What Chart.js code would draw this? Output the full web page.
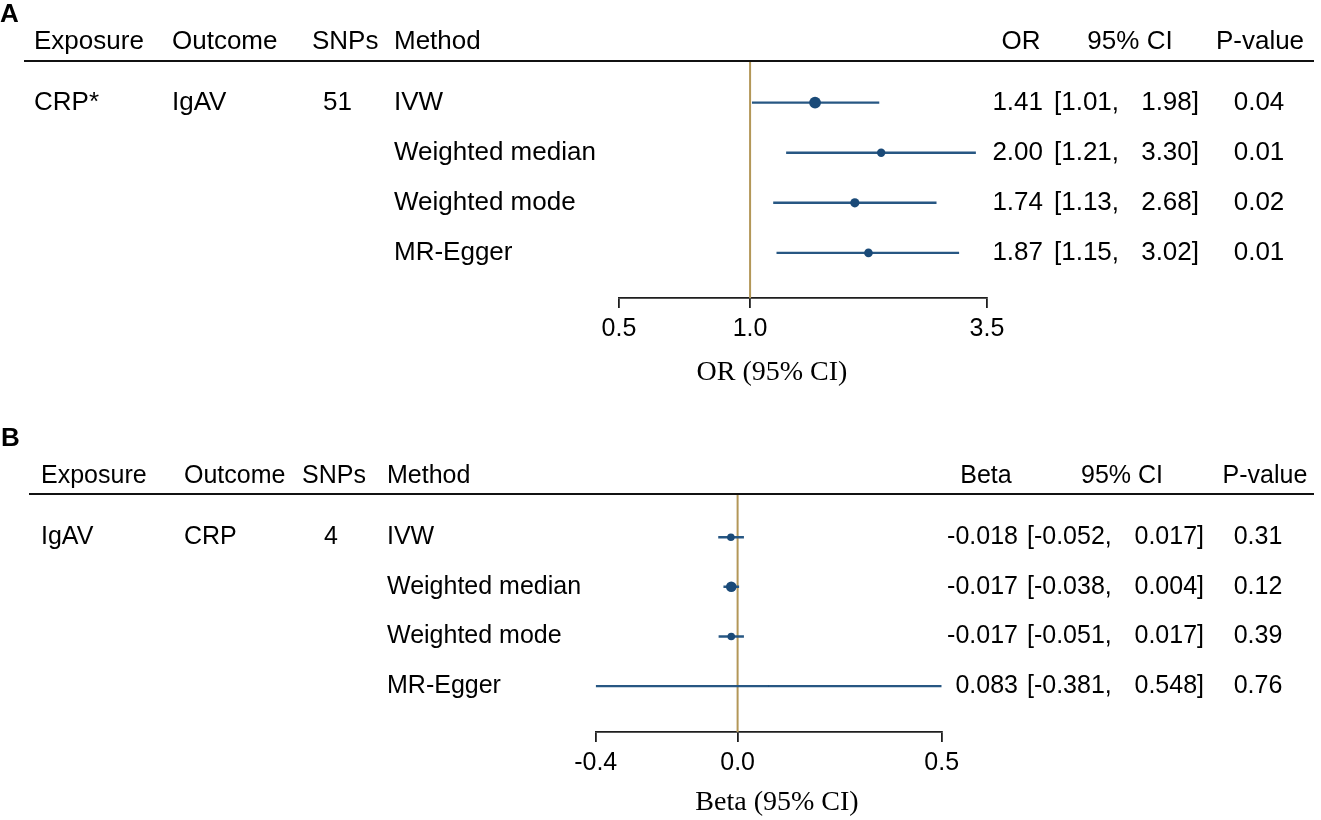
<!DOCTYPE html>
<html>
<head>
<meta charset="utf-8">
<script src="https://cdn.jsdelivr.net/npm/chart.js@4.4.1/dist/chart.umd.min.js"></script>
<style>
  html, body { margin: 0; padding: 0; background: #fff; }
  #wrap { position: relative; width: 1321px; height: 820px; overflow: hidden; }
  canvas { position: absolute; left: 0; }
  #cA { top: 0; }
  #cB { top: 410px; }
</style>
</head>
<body>
<div id="wrap">
  <canvas id="cA" width="1321" height="410"></canvas>
  <canvas id="cB" width="1321" height="410"></canvas>
</div>
<script>
// ---------------- data ----------------
const methods = ['IVW', 'Weighted median', 'Weighted mode', 'MR-Egger'];

// Panel A: CRP -> IgAV
const exposureA = 'CRP*';
const outcomeA = 'IgAV';
const snpsA = '51';
const orA = [1.41, 2.00, 1.74, 1.87];
const orLowA = [1.01, 1.21, 1.13, 1.15];
const orHighA = [1.98, 3.30, 2.68, 3.02];
const pA = ['0.04', '0.01', '0.02', '0.01'];
const ticksA = [0.5, 1.0, 3.5];

// Panel B: IgAV -> CRP
const exposureB = 'IgAV';
const outcomeB = 'CRP';
const snpsB = '4';
const betaB = [-0.018, -0.017, -0.017, 0.083];
const betaLowB = [-0.052, -0.038, -0.051, -0.381];
const betaHighB = [0.017, 0.004, 0.017, 0.548];
const pB = ['0.31', '0.12', '0.39', '0.76'];
const ticksB = [-0.381, 0, 0.548];

// ---------------- styles ----------------
const SANS = "'Liberation Sans', Arial, sans-serif";
const SERIF = "'Liberation Serif', 'Times New Roman', serif";
const pointColor = '#1a4a78';
const ciColor = '#275783';
const refColor = '#b39758';
const axisColor = '#1e1e1e';
const markerRadiusA = [5.9, 4.2, 4.6, 4.3];
const markerRadiusB = [3.8, 5.3, 3.8, 0.6];

const Y_MIN_A = 0.17, Y_MAX_A = 4.90;
const Y_MIN_B = 0.13, Y_MAX_B = 4.925;

function buildDatasets(est, lo, hi, radii, refX, yMin, yMax) {
  const ds = [];
  ds.push({
    type: 'scatter',
    data: est.map((v, i) => ({ x: v, y: i + 1 })),
    pointRadius: radii,
    pointHoverRadius: radii,
    pointBackgroundColor: pointColor,
    pointBorderWidth: 0,
    showLine: false,
    order: 0
  });
  lo.forEach((l, i) => {
    ds.push({
      type: 'line',
      data: [{ x: l, y: i + 1 }, { x: hi[i], y: i + 1 }],
      borderColor: ciColor,
      borderWidth: 2.4,
      pointRadius: 0,
      showLine: true,
      fill: false,
      order: 1
    });
  });
  ds.push({
    type: 'line',
    data: [{ x: refX, y: yMin }, { x: refX, y: yMax }],
    borderColor: refColor,
    borderWidth: 2,
    pointRadius: 0,
    showLine: true,
    fill: false,
    order: 2
  });
  return ds;
}

function txt(ctx, s, x, y, align, font) {
  ctx.font = font;
  ctx.textAlign = align || 'left';
  ctx.textBaseline = 'middle';
  ctx.fillStyle = '#000';
  ctx.fillText(s, x, y);
}

function tablePlugin(cfg) {
  const F = cfg.fs + 'px ' + SANS;
  return {
    id: 'table' + cfg.letter,
    afterDraw(chart) {
      const ctx = chart.ctx;
      const ys = chart.scales.y;
      const top = chart.chartArea.top;
      ctx.save();
      // panel letter
      txt(ctx, cfg.letter, cfg.letterX, cfg.letterY, 'left', 'bold 26px ' + SANS);
      // header
      const hy = top - cfg.headOff;
      const c = cfg.cols;
      txt(ctx, 'Exposure', c.exposure, hy, 'left', F);
      txt(ctx, 'Outcome', c.outcome, hy, 'left', F);
      txt(ctx, 'SNPs', c.snps, hy, 'left', F);
      txt(ctx, 'Method', c.method, hy, 'left', F);
      txt(ctx, cfg.estHead, c.estHead, hy, 'center', F);
      txt(ctx, '95% CI', c.ciHead, hy, 'center', F);
      txt(ctx, 'P-value', c.pHead, hy, 'center', F);
      // header rule
      ctx.strokeStyle = '#111';
      ctx.lineWidth = 2;
      ctx.beginPath();
      ctx.moveTo(cfg.ruleX0, top);
      ctx.lineTo(1314, top);
      ctx.stroke();
      // rows
      const y1 = ys.getPixelForValue(1);
      txt(ctx, cfg.exposure, c.exposure, y1, 'left', F);
      txt(ctx, cfg.outcome, c.outcome, y1, 'left', F);
      txt(ctx, cfg.snps, c.snpsVal, y1, 'left', F);
      methods.forEach((m, i) => {
        const y = ys.getPixelForValue(i + 1);
        txt(ctx, m, c.method, y, 'left', F);
        txt(ctx, cfg.est[i].toFixed(cfg.dec), c.estRight, y, 'right', F);
        txt(ctx, '[' + cfg.lo[i].toFixed(cfg.dec) + ',', c.ciLeft, y, 'left', F);
        txt(ctx, cfg.hi[i].toFixed(cfg.dec) + ']', c.ciRight, y, 'right', F);
        txt(ctx, cfg.p[i], c.pVal, y, 'center', F);
      });
      // axis title
      txt(ctx, cfg.axisTitle, cfg.titleX, chart.chartArea.bottom + cfg.titleOff, 'center', '28px ' + SERIF);
      ctx.restore();
    }
  };
}

function xAxis(type, min, max, ticks, axisH, fs) {
  return {
    type: type,
    position: 'bottom',
    min: min,
    max: max,
    afterBuildTicks: (s) => { s.ticks = ticks.map(v => ({ value: v })); },
    afterFit: (s) => { s.height = axisH; },
    ticks: {
      callback: (v) => Number(v).toFixed(1),
      font: { family: SANS, size: fs },
      color: '#000',
      padding: 6,
      maxRotation: 0,
      autoSkip: false
    },
    grid: {
      drawOnChartArea: false,
      drawTicks: true,
      tickLength: 10,
      color: axisColor,
      lineWidth: 1.8
    },
    border: { display: true, color: axisColor, width: 1.8 },
    title: { display: false }
  };
}

function commonOptions(padding, xa, yMin, yMax) {
  return {
    responsive: false,
    animation: false,
    events: [],
    layout: { padding: padding },
    plugins: { legend: { display: false }, tooltip: { enabled: false }, title: { display: false } },
    scales: {
      x: xa,
      y: { type: 'linear', reverse: true, min: yMin, max: yMax, display: false }
    }
  };
}

// ---------------- Panel A ----------------
new Chart(document.getElementById('cA'), {
  type: 'scatter',
  data: { datasets: buildDatasets(orA, orLowA, orHighA, markerRadiusA, 1, Y_MIN_A, Y_MAX_A) },
  options: commonOptions({ left: 619, right: 334, top: 61, bottom: 12 },
    xAxis('logarithmic', 0.5, 3.5, ticksA, 100, 25), Y_MIN_A, Y_MAX_A),
  plugins: [tablePlugin({
    letter: 'A', letterX: 0, letterY: 15, headOff: 19, ruleX0: 24, fs: 26,
    cols: { exposure: 34, outcome: 172, snps: 312, method: 394, snpsVal: 323,
            estHead: 1021, ciHead: 1130, pHead: 1260,
            estRight: 1043, ciLeft: 1054, ciRight: 1199, pVal: 1259 },
    estHead: 'OR', exposure: exposureA, outcome: outcomeA, snps: snpsA,
    est: orA, lo: orLowA, hi: orHighA, p: pA, dec: 2,
    axisTitle: 'OR (95% CI)', titleX: 772, titleOff: 75
  })]
});

// ---------------- Panel B ----------------
new Chart(document.getElementById('cB'), {
  type: 'scatter',
  data: { datasets: buildDatasets(betaB, betaLowB, betaHighB, markerRadiusB, 0, Y_MIN_B, Y_MAX_B) },
  options: commonOptions({ left: 595.7, right: 379.3, top: 84, bottom: 0 },
    xAxis('linear', -0.381, 0.548, ticksB, 88, 25), Y_MIN_B, Y_MAX_B),
  plugins: [tablePlugin({
    letter: 'B', letterX: 1, letterY: 29, headOff: 18, ruleX0: 29, fs: 25,
    cols: { exposure: 41, outcome: 184, snps: 302, method: 387, snpsVal: 324,
            estHead: 986, ciHead: 1122, pHead: 1265,
            estRight: 1018, ciLeft: 1027, ciRight: 1204, pVal: 1258 },
    estHead: 'Beta', exposure: exposureB, outcome: outcomeB, snps: snpsB,
    est: betaB, lo: betaLowB, hi: betaHighB, p: pB, dec: 3,
    axisTitle: 'Beta (95% CI)', titleX: 777, titleOff: 71
  })]
});
</script>
</body>
</html>
